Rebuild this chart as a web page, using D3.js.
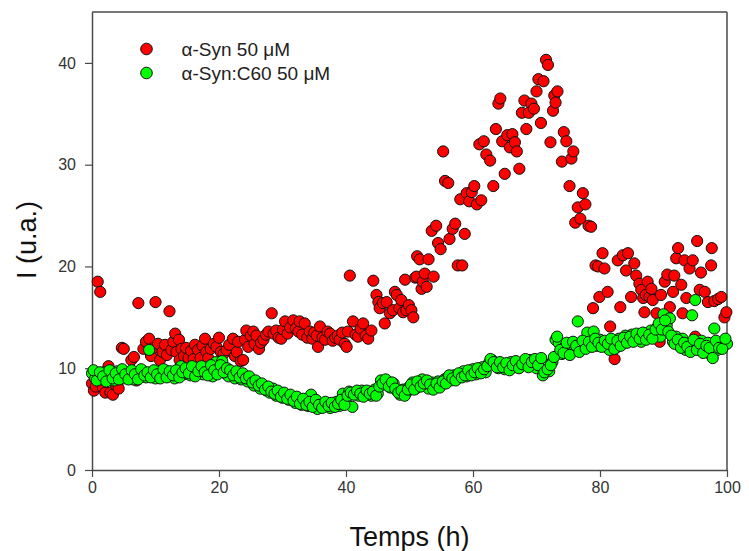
<!DOCTYPE html>
<html>
<head>
<meta charset="utf-8">
<script src="https://cdn.jsdelivr.net/npm/d3@7"></script>
<style>
  body { margin: 0; background: #fff; }
  #chart { width: 749px; height: 551px; }
  text { font-family: "Liberation Sans", Arial, sans-serif; }
</style>
</head>
<body>
<div id="chart"></div>
<script>
// Fluorescence over time, alpha-Syn alone vs alpha-Syn:C60

const seriesNames = ["α-Syn 50 μM", "α-Syn:C60 50 μM"];
const seriesColors = ["#ff0000", "#00ff00"];
const xTicks = [0, 20, 40, 60, 80, 100];
const yTicks = [0, 10, 20, 30, 40];

// [time (h), intensity]
const synData = [
  [0.0,8.5],[0.3,7.8],[0.6,8.2],[0.9,18.5],[1.3,17.5],[1.7,8.1],[2.1,7.6],[2.6,10.2],[2.9,7.6],[3.3,7.4],
  [3.8,8.3],[4.2,8.0],[4.7,12.0],[5.0,11.9],[5.5,9.2],[6.0,9.6],[6.2,10.8],[6.6,11.1],[7.0,8.8],[7.3,16.4],
  [7.7,9.8],[8.1,11.9],[8.5,12.6],[9.0,12.9],[9.3,11.2],[9.7,12.0],[10.0,16.5],[10.4,12.4],[10.7,10.8],[11.1,11.6],
  [11.5,12.3],[11.8,11.3],[12.2,15.6],[12.5,11.8],[12.8,12.6],[13.1,13.4],[13.3,11.6],[13.7,12.8],[13.8,10.8],[14.1,11.9],
  [14.5,11.2],[14.8,12.0],[15.2,11.0],[15.6,11.7],[16.0,10.9],[16.2,12.3],[16.7,11.8],[17.1,11.0],[17.4,12.2],[17.8,12.9],
  [18.0,11.6],[18.3,11.0],[18.7,11.9],[19.2,12.4],[19.6,12.1],[20.0,13.0],[20.3,11.6],[20.7,11.4],[21.2,11.8],[21.6,12.3],
  [22.2,12.9],[22.5,11.2],[22.8,11.6],[23.0,12.6],[23.4,10.7],[23.8,10.8],[24.1,12.8],[24.3,13.7],[24.6,12.1],[25.0,13.2],
  [25.4,13.6],[25.6,12.4],[25.9,13.2],[26.3,11.9],[26.6,12.5],[27.0,12.8],[27.4,13.3],[27.8,13.6],[28.3,15.4],[28.6,13.4],
  [29.0,13.7],[29.4,13.0],[29.8,12.9],[30.1,13.8],[30.4,14.6],[30.8,13.4],[31.2,14.0],[31.7,14.7],[32.1,13.9],[32.5,13.6],
  [32.7,14.6],[33.1,13.3],[33.5,14.4],[33.9,13.0],[34.3,13.6],[34.7,12.9],[35.0,13.5],[35.4,13.2],[35.6,12.1],[35.9,14.1],
  [36.3,13.0],[36.7,12.8],[37.1,13.6],[37.5,13.4],[37.9,12.7],[38.3,13.0],[38.7,13.2],[39.0,12.8],[39.4,13.5],[39.8,12.4],
  [40.1,12.1],[40.3,13.6],[40.6,19.1],[41.1,14.6],[41.5,13.3],[41.9,13.1],[42.3,13.9],[42.7,14.4],[43.1,13.2],[43.5,12.9],
  [44.0,13.7],[44.3,18.6],[44.8,17.2],[45.1,16.5],[45.3,15.9],[45.8,16.4],[46.1,14.4],[46.4,16.5],[46.9,15.4],[47.4,15.7],
  [47.7,17.5],[48.0,17.2],[48.4,15.9],[48.7,16.7],[49.0,15.5],[49.3,18.7],[49.5,15.7],[49.9,16.2],[50.3,15.7],[50.6,15.0],
  [50.9,18.9],[51.1,19.0],[51.2,21.0],[51.6,20.7],[51.9,17.8],[52.1,18.5],[52.4,19.3],[52.7,18.0],[53.0,20.7],[53.5,23.5],
  [53.8,19.0],[54.2,24.0],[54.5,22.3],[54.9,21.7],[55.3,31.3],[55.6,28.4],[56.1,28.2],[56.3,22.7],[56.8,23.7],[57.2,24.2],
  [57.6,20.1],[58.0,26.6],[58.3,20.1],[58.7,23.2],[59.0,27.2],[59.4,26.4],[59.8,27.3],[60.2,27.9],[60.6,26.1],[61.0,32.0],
  [61.3,26.5],[61.7,32.3],[62.1,31.0],[62.7,30.4],[63.2,27.9],[63.6,33.5],[64.0,36.0],[64.3,36.5],[64.6,32.3],[65.0,29.1],
  [65.4,32.9],[65.8,31.7],[66.2,33.0],[66.6,32.2],[66.9,31.3],[67.3,29.6],[67.7,35.1],[68.1,36.3],[68.4,33.5],[68.8,35.1],
  [69.2,36.0],[69.6,35.5],[70.0,37.2],[70.3,38.4],[70.7,34.1],[71.1,38.2],[71.5,40.3],[71.8,39.8],[72.2,32.2],[72.6,35.3],
  [72.8,36.8],[73.0,36.1],[73.3,37.2],[74.0,30.3],[74.3,33.2],[74.7,32.3],[75.2,27.9],[75.5,30.6],[75.8,31.3],[76.1,24.3],
  [76.5,25.8],[76.9,24.7],[77.3,27.2],[77.7,26.1],[78.2,24.0],[78.6,23.9],[78.9,15.9],[79.3,20.1],[79.7,20.0],[79.9,17.0],
  [80.4,21.3],[80.7,19.8],[81.2,17.5],[81.6,14.1],[82.3,10.9],[82.8,20.6],[83.2,16.0],[83.6,21.1],[84.1,19.6],[84.4,21.3],
  [84.9,17.0],[85.4,20.3],[85.7,19.1],[86.2,18.3],[86.5,17.7],[86.8,16.9],[87.0,15.5],[87.2,17.2],[87.5,18.5],[87.8,17.0],
  [88.1,17.8],[88.3,16.7],[88.9,15.4],[89.4,12.6],[89.6,17.2],[90.2,18.5],[90.6,19.2],[91.0,16.0],[91.5,17.5],[91.7,19.1],
  [92.0,20.8],[92.3,21.8],[92.8,18.2],[93.0,15.4],[93.3,20.6],[93.6,16.9],[94.1,19.8],[94.6,20.6],[95.0,13.1],[95.3,22.5],
  [95.7,17.7],[95.9,19.4],[96.5,17.5],[97.0,16.5],[97.5,20.1],[97.6,21.8],[98.0,16.6],[98.6,16.8],[99.1,17.0],[99.6,15.0],
  [99.9,15.5]
];

const synC60Data = [
  [0.0,9.5],[0.5,9.0],[1.0,9.3],[1.5,8.9],[2.0,9.6],[2.5,9.1],[3.0,9.4],[3.5,8.8],[4.0,9.7],[4.5,9.2],
  [5.0,9.0],[5.5,9.6],[6.0,9.3],[6.5,8.9],[7.0,9.5],[7.5,9.2],[8.0,9.7],[8.5,9.1],[9.0,11.8],[9.5,9.4],
  [10.0,9.0],[10.5,9.6],[11.0,9.3],[11.5,9.8],[12.0,9.2],[12.5,9.5],[13.0,9.0],[13.5,9.7],[14.0,10.2],[14.5,9.4],
  [15.0,9.8],[15.5,9.3],[16.0,10.0],[16.5,9.5],[17.0,9.9],[17.5,9.4],[18.0,10.1],[18.5,9.6],[19.0,9.2],[19.5,10.6],
  [20.0,9.8],[20.5,10.7],[21.0,9.5],[21.5,9.2],[22.0,9.6],[22.5,9.0],[23.0,9.4],[23.5,8.9],[24.0,9.2],[24.5,8.7],
  [25.0,8.9],[25.5,8.3],[26.0,8.6],[26.5,8.0],[27.0,8.3],[27.5,7.8],[28.0,7.6],[28.5,8.0],[29.0,7.3],[29.5,7.6],
  [30.0,7.1],[30.5,7.4],[31.0,6.9],[31.5,7.2],[32.0,6.6],[32.5,7.0],[33.0,6.4],[33.5,6.8],[34.0,6.3],[34.5,7.4],
  [35.0,6.6],[35.5,6.0],[36.0,6.5],[36.5,6.2],[37.0,6.6],[37.5,6.1],[38.0,6.4],[38.5,6.7],[39.0,6.3],[39.5,7.5],
  [40.0,6.6],[40.5,7.7],[41.0,6.2],[41.5,7.6],[42.0,7.3],[42.5,7.8],[43.0,7.4],[43.5,7.7],[44.0,7.3],[44.5,7.9],
  [45.0,7.5],[45.5,8.8],[46.0,8.4],[46.5,8.7],[47.0,8.1],[47.5,8.5],[48.0,7.8],[48.5,7.4],[49.0,7.9],[49.5,7.6],
  [50.0,8.2],[50.5,8.6],[51.0,8.0],[51.5,8.5],[52.0,8.9],[52.5,8.3],[53.0,8.0],[53.5,8.6],[54.0,8.2],[54.5,8.7],
  [55.0,8.4],[55.5,8.9],[56.0,9.1],[56.5,8.8],[57.0,9.3],[57.5,9.0],[58.0,9.4],[58.5,9.7],[59.0,9.2],[59.5,9.6],
  [60.0,9.9],[60.5,9.4],[61.0,9.8],[61.5,10.1],[62.0,9.6],[62.5,10.5],[63.0,10.8],[63.5,10.4],[64.0,10.0],[64.5,10.3],
  [65.0,9.9],[65.5,10.2],[66.0,10.6],[66.5,10.1],[67.0,10.5],[67.5,10.2],[68.0,10.6],[68.5,10.3],[69.0,10.8],[69.5,10.4],
  [70.0,10.0],[70.5,10.7],[71.0,9.3],[71.5,10.2],[72.0,9.7],[72.5,10.6],[73.0,12.8],[73.5,12.5],[74.0,11.4],[74.5,12.1],
  [75.0,11.6],[75.5,12.3],[76.0,11.9],[76.5,14.6],[77.0,12.4],[77.5,12.0],[78.0,13.5],[78.5,12.3],[79.0,13.6],[79.5,12.2],
  [80.0,12.8],[80.5,12.4],[81.0,12.1],[81.5,11.8],[82.0,12.6],[82.5,12.0],[83.0,12.9],[83.5,12.4],[84.0,13.2],[84.5,12.7],
  [85.0,13.3],[85.5,12.9],[86.0,13.1],[86.5,12.6],[87.0,13.4],[87.5,13.0],[88.0,13.7],[88.5,13.3],[89.0,14.0],[89.5,13.1],
  [90.0,15.3],[90.5,14.2],[91.0,14.9],[91.5,12.6],[92.0,13.1],[92.5,12.2],[93.0,12.9],[93.5,11.8],[94.0,12.4],[94.5,15.2],
  [95.0,16.7],[95.5,12.1],[96.0,12.7],[96.5,11.9],[97.0,12.5],[97.5,11.3],[98.0,13.9],[98.5,11.8],[99.0,12.3],[99.5,12.6],
  [100.0,12.4],
  [0.25,9.8],[0.75,8.8],[1.25,9.6],[1.75,9.2],[2.25,8.7],[2.75,9.8],[3.25,9.0],[3.75,9.5],[4.25,8.9],[4.75,9.9],
  [5.25,9.4],[5.75,8.9],[6.25,9.8],[6.75,9.4],[7.25,8.9],[7.75,9.9],[8.25,9.3],[8.75,9.6],[9.25,9.1],[9.75,9.8],
  [10.25,9.4],[10.75,9.0],[11.25,9.9],[11.75,9.1],[12.25,9.7],[12.75,9.3],[13.25,9.8],[13.75,9.1],[14.25,9.6],[14.75,10.0],
  [15.25,9.5],[15.75,10.2],[16.25,9.2],[16.75,9.7],[17.25,10.2],[17.75,9.6],[18.25,9.3],[18.75,10.3],[19.25,9.8],[19.75,9.4],
  [20.25,10.3],[20.75,9.6],[21.25,10.0],[21.75,9.8],[22.25,9.3],[22.75,9.7],[23.25,9.1],[23.75,9.5],[24.25,9.0],[24.75,9.2],
  [25.25,8.6],[25.75,8.8],[26.25,8.3],[26.75,8.5],[27.25,7.9],[27.75,8.2],[28.25,7.7],[28.75,7.5],[29.25,7.8],[29.75,7.2],
  [30.25,7.6],[30.75,7.0],[31.25,7.4],[31.75,6.8],[32.25,7.2],[32.75,6.5],[33.25,7.0],[33.75,6.4],[34.25,6.7],[34.75,6.2],
  [35.25,6.9],[35.75,6.4],[36.25,6.1],[36.75,6.7],[37.25,6.3],[37.75,6.6],[38.25,6.2],[38.75,6.5],[39.25,6.9],[39.75,6.4],
  [40.25,7.3],[40.75,7.6],[41.25,7.4],[41.75,7.8],[42.25,7.5],[42.75,7.2],[43.25,7.8],[43.75,7.5],[44.25,7.7],[44.75,7.3],
  [45.25,8.2],[45.75,8.5],[46.25,8.9],[46.75,8.2],[47.25,8.6],[47.75,8.0],[48.25,7.6],[48.75,7.8],[49.25,7.3],[49.75,7.9],
  [50.25,8.4],[50.75,7.9],[51.25,8.7],[51.75,8.2],[52.25,8.5],[52.75,8.8],[53.25,8.4],[53.75,7.9],[54.25,8.5],[54.75,8.1],
  [55.25,8.7],[55.75,8.5],[56.25,9.3],[56.75,9.0],[57.25,8.8],[57.75,9.5],[58.25,9.1],[58.75,9.3],[59.25,9.8],[59.75,9.3],
  [60.25,9.6],[60.75,10.0],[61.25,9.5],[61.75,9.9],[62.25,10.2],[62.75,10.9],[63.25,10.6],[63.75,10.1],[64.25,10.6],[64.75,10.1],
  [65.25,10.5],[65.75,9.8],[66.25,10.3],[66.75,10.7],[67.25,10.0],[67.75,10.4],[68.25,10.9],[68.75,10.1],[69.25,10.6],[69.75,10.9],
  [70.25,10.3],[70.75,11.0],[71.25,9.6],[71.75,9.9],[72.25,10.3],[72.75,11.1],[73.25,13.1],[73.75,11.8],[74.25,11.5],[74.75,12.5],
  [75.25,11.3],[75.75,12.6],[76.25,12.2],[76.75,11.6],[77.25,12.7],[77.75,11.9],[78.25,12.6],[78.75,12.1],[79.25,12.9],[79.75,12.5],
  [80.25,12.1],[80.75,12.7],[81.25,12.4],[81.75,12.9],[82.25,11.9],[82.75,12.7],[83.25,12.2],[83.75,13.0],[84.25,12.5],[84.75,13.1],
  [85.25,12.6],[85.75,13.4],[86.25,12.9],[86.75,13.5],[87.25,12.8],[87.75,13.3],[88.25,12.9],[88.75,13.8],[89.25,14.4],[89.75,13.8],
  [90.25,14.7],[90.75,13.6],[91.25,13.2],[91.75,12.4],[92.25,12.8],[92.75,12.0],[93.25,12.5],[93.75,12.1],[94.25,11.6],[94.75,12.8],
  [95.25,11.8],[95.75,12.4],[96.25,11.5],[96.75,12.2],[97.25,12.0],[97.75,11.0],[98.25,12.7],[98.75,12.0],[99.25,11.9],[99.75,12.9]
];

const allSeries = [synData, synC60Data];

const W = 749, H = 551;
const margin = { top: 12, right: 22, bottom: 81, left: 92 },
    width = W - margin.left - margin.right,
    height = H - margin.top - margin.bottom;

const svg = d3.select("#chart")
    .append("svg")
    .attr("width", W)
    .attr("height", H)
    .append("g")
    .attr("transform", "translate(" + margin.left + "," + margin.top + ")");

const xScale = d3.scaleLinear().domain([0, 100]).range([0, width]);
const yScale = d3.scaleLinear().domain([0, 45]).range([height, 0]);

const xAxis = d3.axisBottom(xScale).tickValues(xTicks).tickSize(7).tickPadding(5).tickSizeOuter(0);
const yAxis = d3.axisLeft(yScale).tickValues(yTicks).tickSize(7).tickPadding(9).tickSizeOuter(0);

const axisColor = "#4a4a4a";

const gx = svg.append("g")
    .attr("transform", "translate(0," + height + ")")
    .call(xAxis);
const gy = svg.append("g").call(yAxis);

[gx, gy].forEach(g => {
  g.select(".domain").attr("stroke", axisColor).attr("stroke-width", 1.5);
  g.selectAll(".tick line").attr("stroke", axisColor).attr("stroke-width", 1.2);
  g.selectAll(".tick text")
    .attr("fill", "#333")
    .attr("font-size", "16px")
    .attr("font-family", "Liberation Sans, Arial, sans-serif");
});

// top and right frame
svg.append("line")
    .attr("x1", 0).attr("x2", width)
    .attr("y1", 0).attr("y2", 0)
    .attr("stroke", axisColor).attr("stroke-width", 1.5);
svg.append("line")
    .attr("x1", width).attr("x2", width)
    .attr("y1", 0).attr("y2", height)
    .attr("stroke", axisColor).attr("stroke-width", 1.5);

// points
allSeries.forEach((data, i) => {
  svg.append("g")
    .selectAll("circle")
    .data(data)
    .enter()
    .append("circle")
    .attr("cx", d => xScale(d[0]))
    .attr("cy", d => yScale(d[1]))
    .attr("r", 5.6)
    .attr("fill", seriesColors[i])
    .attr("stroke", "#111")
    .attr("stroke-width", 1);
});

// axis titles
svg.append("text")
    .attr("x", width / 2)
    .attr("y", height + 76)
    .attr("text-anchor", "middle")
    .attr("font-size", "27px")
    .attr("fill", "#111")
    .text("Temps (h)");

svg.append("text")
    .attr("transform", "rotate(-90)")
    .attr("x", -(240 - margin.top))
    .attr("y", 36 - margin.left)
    .attr("text-anchor", "middle")
    .attr("font-size", "27px")
    .attr("fill", "#111")
    .text("I (u.a.)");

// legend
const legend = svg.append("g")
    .attr("transform", "translate(" + (146.5 - margin.left) + "," + (49 - margin.top) + ")");

seriesNames.forEach((name, i) => {
  legend.append("circle")
    .attr("cx", 0)
    .attr("cy", i * 24)
    .attr("r", 5.8)
    .attr("fill", seriesColors[i])
    .attr("stroke", "#111")
    .attr("stroke-width", 1);
  legend.append("text")
    .attr("x", 35)
    .attr("y", i * 24 + 7)
    .attr("font-size", "19px")
    .attr("fill", "#222")
    .text(name);
});
</script>
</body>
</html>
